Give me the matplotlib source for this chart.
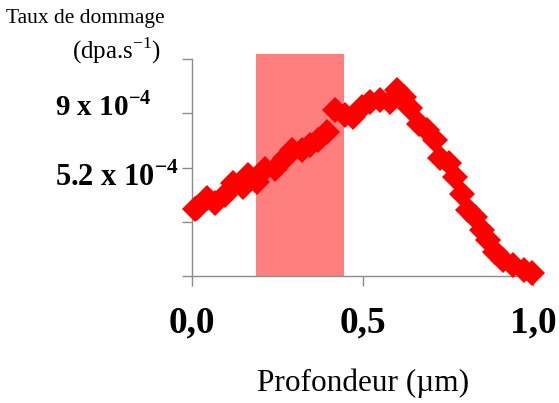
import matplotlib
matplotlib.use("Agg")
import matplotlib.pyplot as plt
from matplotlib import transforms

plt.rcParams['font.family'] = 'Liberation Serif'
plt.rcParams['mathtext.fontset'] = 'custom'
plt.rcParams['mathtext.rm'] = 'Liberation Serif'
plt.rcParams['mathtext.bf'] = 'Liberation Serif:bold'

# depth (um) and damage rate (in y tick units, 0..4)
depth = [0.009, 0.014, 0.043, 0.067, 0.097, 0.121, 0.150, 0.165, 0.190, 0.214,
         0.243, 0.273, 0.292, 0.322, 0.346, 0.370, 0.395, 0.419, 0.449, 0.473,
         0.498, 0.522, 0.551, 0.581, 0.600, 0.620, 0.639, 0.664, 0.688, 0.713,
         0.727, 0.752, 0.771, 0.791, 0.810, 0.830, 0.850, 0.869, 0.889, 0.913,
         0.942, 0.972, 0.996]
rate = [1.23, 1.25, 1.43, 1.34, 1.49, 1.71, 1.65, 1.86, 1.74, 1.98,
        1.98, 2.17, 2.32, 2.32, 2.41, 2.51, 2.66, 3.06, 2.97, 2.94,
        3.12, 3.20, 3.24, 3.21, 3.43, 3.30, 3.09, 2.81, 2.69, 2.51,
        2.17, 2.08, 1.83, 1.52, 1.22, 1.09, 0.85, 0.66, 0.45, 0.30,
        0.20, 0.11, 0.05]

zone = (0.188, 0.446)
xticks = [0.0, 0.5, 1.0]
xlabels = ['0,0', '0,5', '1,0']

fig = plt.figure(figsize=(5.59, 4.03), dpi=100)
ax = fig.add_axes([0.3435, 0.315, 0.6225, 0.552])

ax.axvspan(zone[0], zone[1], color='#ff7f7f', lw=0, zorder=1)
ax.plot(depth, rate, 'D', color='#ff0000', ms=13, mew=0, zorder=3, clip_on=False)

ax.set_xlim(0, 1.02)
ax.set_ylim(0, 4.1)
for s in ['top', 'right']:
    ax.spines[s].set_visible(False)
for s in ['left', 'bottom']:
    ax.spines[s].set_color('#8c8c8c')
    ax.spines[s].set_linewidth(1)
ax.spines['left'].set_bounds(0, 4)

ax.set_yticks([0, 1, 2, 3, 4])
ax.set_yticklabels([])
ax.set_xticks(xticks)
ax.set_xticklabels(xlabels, fontsize=27, fontweight='bold')
ax.tick_params(axis='both', direction='out', length=7, width=1, color='#8c8c8c')
ax.tick_params(axis='x', pad=14)

tr = transforms.blended_transform_factory(fig.transFigure, ax.transData)
fig.text(0.098, 3.13, r'9 x 10$^{\mathbf{-4}}$', transform=tr, fontsize=21,
         fontweight='bold', va='center', ha='left')
fig.text(0.098, 1.82, r'5.2 x 10$^{\mathbf{-4}}$', transform=tr, fontsize=22,
         fontweight='bold', va='center', ha='left')

fig.text(0.152, 0.955, 'Taux de dommage', fontsize=15.5, ha='center', va='center')
fig.text(0.209, 0.875, r'(dpa.s$^{\mathrm{-1}}$)', fontsize=18, ha='center', va='center')
fig.text(0.65, 0.05, 'Profondeur (\u00b5m)', fontsize=22.5, ha='center', va='center')

fig.savefig('out.png', dpi=100)
